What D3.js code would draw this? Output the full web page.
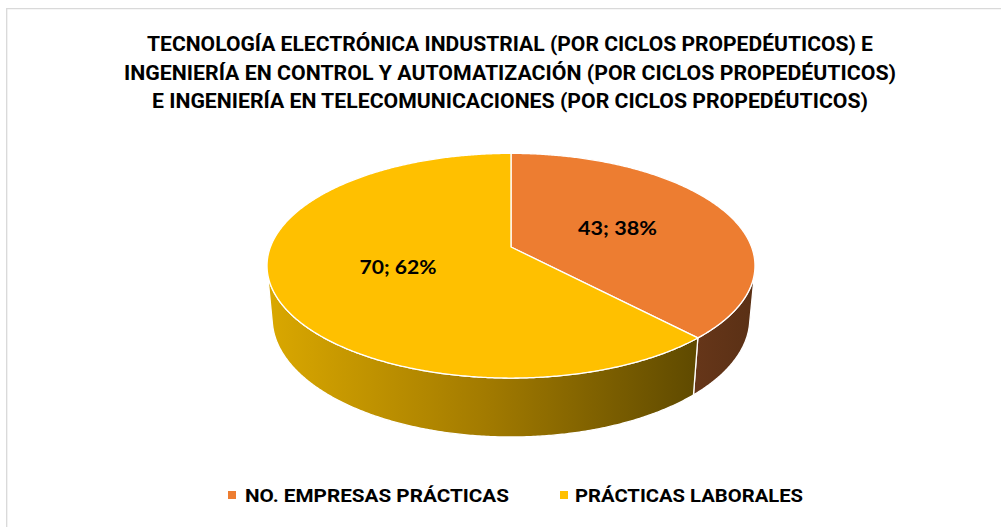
<!DOCTYPE html>
<html>
<head>
<meta charset="utf-8">
<script src="https://cdn.jsdelivr.net/npm/d3@7"></script>
<style>
  body { margin: 0; background: #fff; }
  svg { display: block; }
</style>
</head>
<body>
<svg id="chart" width="1001" height="527"></svg>
<script>
const categories = ["NO. EMPRESAS PRÁCTICAS", "PRÁCTICAS LABORALES"];
const values = [43, 70];
const topColors = ["#ED7D31", "#FFC000"];
const titleLines = [
  "TECNOLOGÍA ELECTRÓNICA INDUSTRIAL (POR CICLOS PROPEDÉUTICOS) E",
  "INGENIERÍA EN CONTROL Y AUTOMATIZACIÓN (POR CICLOS PROPEDÉUTICOS)",
  "E INGENIERÍA EN TELECOMUNICACIONES (POR CICLOS PROPEDÉUTICOS)"
];

const svg = d3.select("#chart");
const font = "Roboto, Lato, sans-serif";
const labelFont = "Lato, Roboto, sans-serif";

// chart area border (only top and left edges are inside the picture)
svg.append("path")
  .attr("d", "M6.7,527V8.7H1001")
  .attr("fill", "none")
  .attr("stroke", "#D9D9D9")
  .attr("stroke-width", 1.3);

// title
const titleWidths = [726, 772, 716];
svg.append("g").selectAll("text")
  .data(titleLines)
  .enter().append("text")
  .attr("x", 510)
  .attr("y", (d, i) => 51 + i * 28.5)
  .attr("text-anchor", "middle")
  .attr("font-family", font)
  .attr("font-weight", "bold")
  .attr("font-size", 21)
  .attr("fill", "#000")
  .attr("textLength", (d, i) => titleWidths[i])
  .attr("lengthAdjust", "spacingAndGlyphs")
  .text(d => d);

// perspective projection of the pie (unit radius, tilted)
const cx = 511, cy = 247, k = 1287, D = 5.35, depth = 0.248;
const tilt = 27 * Math.PI / 180;
const sn = Math.sin(tilt), cs = Math.cos(tilt);

function proj(x, y, z) {
  const Y = y * cs + z * sn;
  const W = D + z * cs - y * sn;
  return [cx + k * x / W, cy - k * Y / W];
}
function rim(a, y, r = 1) {
  return proj(r * Math.sin(a), y, r * Math.cos(a));
}
function arcPoints(a0, a1, y) {
  const n = Math.max(2, Math.ceil(Math.abs(a1 - a0) / 0.008));
  return d3.range(n + 1).map(i => rim(a0 + (a1 - a0) * i / n, y));
}

const pie = d3.pie().sort(null).value(d => d);
const slices = pie(values);
const total = d3.sum(values);
const pct = d3.format(".0%");
const line = d3.line();

// visible part of the cylinder wall
const vis = Math.acos(-1 / (D * cs));
const visStart = vis, visEnd = 2 * Math.PI - vis;

const defs = svg.append("defs");
const gradY = defs.append("linearGradient")
  .attr("id", "sideYellow")
  .attr("gradientUnits", "userSpaceOnUse")
  .attr("x1", 267).attr("x2", 700).attr("y1", 0).attr("y2", 0);
gradY.append("stop").attr("offset", "0%").attr("stop-color", "#DAA800");
gradY.append("stop").attr("offset", "50%").attr("stop-color", "#A37B00");
gradY.append("stop").attr("offset", "100%").attr("stop-color", "#5E4900");
const gradO = defs.append("linearGradient")
  .attr("id", "sideOrange")
  .attr("gradientUnits", "userSpaceOnUse")
  .attr("x1", 695).attr("x2", 755).attr("y1", 0).attr("y2", 0);
gradO.append("stop").attr("offset", "0%").attr("stop-color", "#663619");
gradO.append("stop").attr("offset", "100%").attr("stop-color", "#5A3015");
const sideFills = ["url(#sideOrange)", "url(#sideYellow)"];

// sides
svg.append("g").selectAll("path")
  .data(slices)
  .enter().append("path")
  .attr("d", d => {
    const a0 = Math.max(d.startAngle, visStart);
    const a1 = Math.min(d.endAngle, visEnd);
    if (a1 <= a0) return null;
    const pts = arcPoints(a0, a1, 0).concat(arcPoints(a1, a0, -depth));
    return line(pts) + "Z";
  })
  .attr("fill", (d, i) => sideFills[i])
  .attr("stroke", "#fff")
  .attr("stroke-width", 1.3)
  .attr("stroke-linejoin", "round");

// top faces
const centre = proj(0, 0, 0);
svg.append("g").selectAll("path")
  .data(slices)
  .enter().append("path")
  .attr("d", d => line([centre].concat(arcPoints(d.startAngle, d.endAngle, 0))) + "Z")
  .attr("fill", (d, i) => topColors[i])
  .attr("stroke", "#fff")
  .attr("stroke-width", 1.3)
  .attr("stroke-linejoin", "round");

// data labels
const labelWidths = [79, 77];
svg.append("g").selectAll("text")
  .data(slices)
  .enter().append("text")
  .attr("x", d => rim((d.startAngle + d.endAngle) / 2, 0, 0.49)[0])
  .attr("y", d => rim((d.startAngle + d.endAngle) / 2, 0, 0.49)[1])
  .attr("dy", "0.36em")
  .attr("text-anchor", "middle")
  .attr("font-family", labelFont)
  .attr("font-weight", "bold")
  .attr("font-size", 19)
  .attr("fill", "#000")
  .attr("textLength", (d, i) => labelWidths[i])
  .attr("lengthAdjust", "spacingAndGlyphs")
  .text(d => `${d.data}; ${pct(d.data / total)}`);

// legend
const legendX = [228, 560];
const legendWidths = [264, 228];
const legend = svg.append("g").selectAll("g")
  .data(categories)
  .enter().append("g")
  .attr("transform", (d, i) => `translate(${legendX[i]},491)`);
legend.append("rect")
  .attr("width", 8).attr("height", 8)
  .attr("fill", (d, i) => topColors[i]);
legend.append("text")
  .attr("x", (d, i) => i === 0 ? 17 : 15)
  .attr("y", 11)
  .attr("font-family", font)
  .attr("font-weight", "bold")
  .attr("font-size", 19)
  .attr("fill", "#000")
  .attr("textLength", (d, i) => legendWidths[i])
  .attr("lengthAdjust", "spacingAndGlyphs")
  .text(d => d);
</script>
</body>
</html>
